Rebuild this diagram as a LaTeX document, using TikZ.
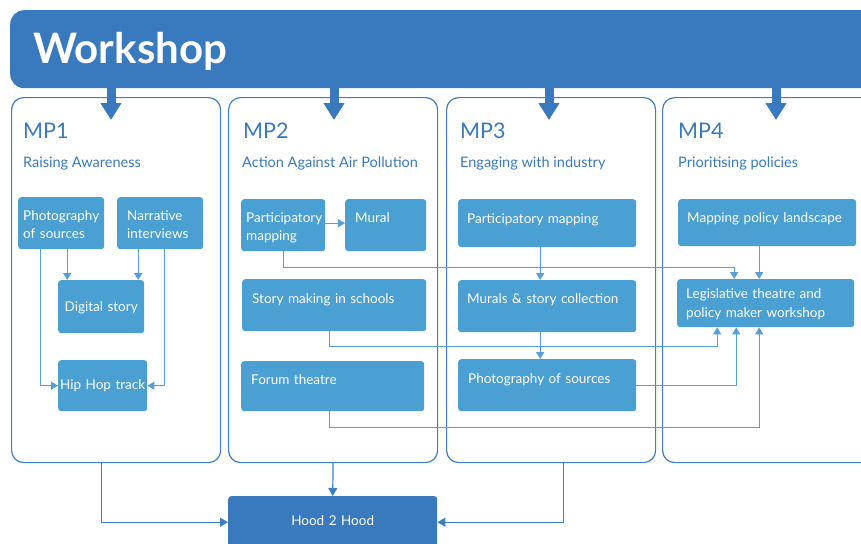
\documentclass[tikz,border=0pt]{standalone}
\usepackage{fontspec}
\setmainfont{Lato}
\usetikzlibrary{arrows.meta}
\definecolor{darkblue}{HTML}{387ABD}
\definecolor{boxblue}{HTML}{4AA0D3}
\definecolor{linkblue}{HTML}{55A0D8}
\definecolor{panelblue}{HTML}{3D7FC6}
\hyphenpenalty=10000
\exhyphenpenalty=10000
\begin{document}
\begin{tikzpicture}[x=1pt,y=-1pt,
  box/.style={fill=boxblue, rounded corners=3, text=white, inner ysep=0, align=left, anchor=north west,
    font=\fontsize{13.5}{18}\selectfont},
  cbox/.style={box, align=center, inner xsep=0},
  panel/.style={draw=panelblue, line width=1.2, rounded corners=12, anchor=north west, inner sep=0},
  mptitle/.style={text=darkblue, anchor=base west, inner sep=0, font=\fontsize{21.5}{26}\selectfont},
  mpsub/.style={text=darkblue, anchor=base west, inner sep=0, font=\fontsize{14.5}{18}\selectfont},
  bigarrow/.style={draw=darkblue, line width=9, -{Triangle[width=20, length=17]}},
  conn/.style={draw=linkblue, line width=1.2, -{Triangle[width=8, length=7]}},
  conn2/.style={draw=panelblue, line width=1.2, -{Triangle[width=9, length=8]}},
]
\useasboundingbox (0,0) rectangle (861,543);
\clip (0,0) rectangle (861,543);

% banner
\node[fill=darkblue, rounded corners=14, anchor=north west, minimum width=880, minimum height=78,
  inner ysep=0, inner xsep=23, text width=834, align=left, text height=53, text depth=25, text=white,
  font=\bfseries\fontsize{42}{44}\selectfont] (ws) at (10,10) {Workshop};

% panels
\node[panel, minimum width=209, minimum height=365] (mp1) at (11,97) {};
\node[panel, minimum width=209, minimum height=365] (mp2) at (228,97) {};
\node[panel, minimum width=209, minimum height=365] (mp3) at (446,97) {};
\node[panel, minimum width=240, minimum height=365] (mp4) at (662,97) {};

% banner arrows
\coordinate (a1) at (111,120);
\coordinate (a2) at (334,120);
\coordinate (a3) at (549,120);
\coordinate (a4) at (776,120);
\foreach \a in {a1,a2,a3,a4} \draw[bigarrow] (ws.south -| \a) -- (\a);

% titles
\node[mptitle] (t1) at (23,138) {MP1};
\node[mpsub] (s1) at (23,167) {Raising Awareness};
\node[mptitle] (t2) at (243,138) {MP2};
\node[mpsub] (s2) at (242,167) {Action Against Air Pollution};
\node[mptitle] (t3) at (460,138) {MP3};
\node[mpsub] (s3) at (460,167) {Engaging with industry};
\node[mptitle] (t4) at (678,138) {MP4};
\node[mpsub] (s4) at (678,167) {Prioritising policies};

% MP1 boxes
\node[box, inner xsep=5, text width=76, text height=23, text depth=29] (p1photo) at (18,197) {Photography\\of sources};
\node[box, inner xsep=10, text width=66, text height=23, text depth=29] (p1narr) at (117,197) {Narrative\\interviews};
\node[cbox, text width=86, text height=31, text depth=22] (p1dig) at (58,280) {Digital story};
\node[cbox, text width=89, text height=29, text depth=22] (p1hip) at (58,360) {Hip Hop track};

% MP2 boxes
\node[box, inner xsep=5, text width=74, text height=23, text depth=29] (p2part) at (241,199) {Participatory\\mapping};
\node[box, inner xsep=10, text width=61, text height=23, text depth=29] (p2mural) at (345,199) {Mural};
\node[box, inner xsep=10, text width=164, text height=24, text depth=28] (p2story) at (242,279) {Story making in schools};
\node[box, inner xsep=10, text width=163, text height=23, text depth=27] (p2forum) at (241,361) {Forum theatre};

% MP3 boxes
\node[box, inner xsep=9, text width=160, text height=24, text depth=24] (p3part) at (458,199) {Participatory mapping};
\node[box, inner xsep=9, text width=160, text height=23, text depth=29] (p3mur) at (458,280) {Murals \& story collection};
\node[box, inner xsep=10, text width=158, text height=24, text depth=28] (p3photo) at (458,359) {Photography of sources};

% MP4 boxes
\node[box, inner xsep=9, text width=160, text height=23, text depth=24] (p4map) at (678,199) {Mapping policy landscape};
\node[box, inner xsep=9, text width=159, text height=19, text depth=29,
  font=\fontsize{13.5}{19}\selectfont] (p4leg) at (677,279) {Legislative theatre and\\policy maker workshop};

% Hood 2 Hood
\node[cbox, fill=darkblue, text width=209, text height=29, text depth=23] (hood) at (228,496) {Hood 2 Hood};

% MP1 connectors
\draw[conn] ([xshift=6]p1photo.south) -- ([xshift=6]p1photo.south |- p1dig.north);
\draw[conn] ([xshift=-22]p1narr.south) -- ([xshift=-22]p1narr.south |- p1dig.north);
\draw[conn] ([xshift=-21]p1photo.south) |- (p1hip.west);
\draw[conn] ([xshift=4]p1narr.south) |- (p1hip.east);

% MP2 connectors
\draw[conn] ([yshift=2]p2part.east) -- ([yshift=2]p2part.east -| p2mural.west);
\draw[conn] (p2part.south) -- ++(0,16) -| ([xshift=-31.5]p4leg.north);
\draw[conn] ([xshift=-5]p2story.south) -- ++(0,15) -| ([xshift=-48.5]p4leg.south);
\draw[conn] ([xshift=-3.5]p2forum.south) -- ++(0,16) -| ([xshift=-6.5]p4leg.south);

% MP3 connectors
\draw[conn] ([xshift=-7]p3part.south) -- ([xshift=-7]p3part.south |- p3mur.north);
\draw[conn] ([xshift=-7]p3mur.south) -- ([xshift=-7]p3mur.south |- p3photo.north);
\draw[conn] (p3photo.east) -| ([xshift=-29.5]p4leg.south);

% MP4 connector
\draw[conn] ([xshift=-8]p4map.south) -- ([xshift=-8]p4map.south |- p4leg.north);

% to Hood 2 Hood
\draw[conn2] ([xshift=-14.5]mp1.south) |- (hood.west);
\draw[conn2] (mp2.south) -- (hood.north);
\draw[conn2] ([xshift=12.5]mp3.south) |- (hood.east);
\end{tikzpicture}
\end{document}
